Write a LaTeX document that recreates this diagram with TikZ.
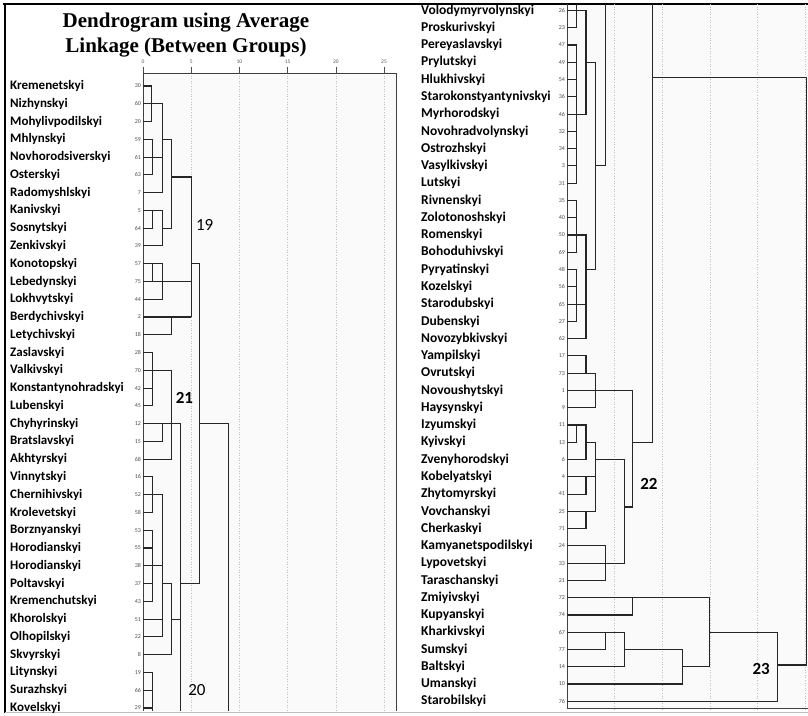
\documentclass[tikz,border=0pt]{standalone}
\usepackage{fontspec}
\setmainfont{Carlito}
\newfontfamily\titlefont{Liberation Serif}
\usetikzlibrary{positioning}

\tikzset{
  dend/.style={line width=1.1pt, black!85},
  gridline/.style={gray!50, line width=0.6pt, dotted},
  frameline/.style={black!75, line width=1pt},
  district/.style={font=\bfseries\fontsize{13}{14}\selectfont, anchor=west, inner sep=0pt},
  districtr/.style={font=\bfseries\fontsize{13.5}{14}\selectfont, anchor=west, inner sep=0pt},
  caseno/.style={font=\fontsize{6}{6}\selectfont, text=black!70, anchor=east, inner sep=0pt},
  ticklabel/.style={font=\fontsize{5.5}{6}\selectfont, text=black!65, inner sep=0pt},
  clusterno/.style={font=\fontsize{17}{18}\selectfont, inner sep=0pt},
}

\begin{document}
\begin{tikzpicture}[x=1pt, y=-1pt]
  \useasboundingbox (0,0) rectangle (808,715);

  % outer frame and panel backgrounds
  \fill[black!2] (143,73) rectangle (397,711);
  \fill[black!2] (567,4) rectangle (808,709);
  \draw[line width=1.2pt] (3,4) -- (808,4);
  \draw[line width=1.2pt] (5,4) -- (5,713);
  \draw[gray!50, line width=1pt] (5,712.5) -- (808,712.5);

  \node[font=\titlefont\bfseries\fontsize{21}{25}\selectfont, align=center] (title) at (186,35) {Dendrogram using Average\\Linkage (Between Groups)};

  % left half of the dendrogram
  \begin{scope}[xshift=143pt, yshift=-68.23pt, x=9.64pt, y=-17.77pt]
    \foreach \d in {5,10,...,25}
      \draw[gridline] (\d,0.27) -- (\d,36.17);
    \foreach \d in {0,5,...,25} {
      \draw[black!70, line width=0.6pt] (\d,-0.07) -- (\d,0.27);
      \node[ticklabel] (tick\d) at (\d,-0.35) {\d};
    }
    \draw[frameline] (0,36.17) -- (0,0.27) -- (26.3,0.27) -- (26.3,36.17);

    \foreach \dname/\cnum [count=\i] in {Kremenetskyi/30, Nizhynskyi/60, Mohylivpodilskyi/20,
        Mhlynskyi/59, Novhorodsiverskyi/61, Osterskyi/63, Radomyshlskyi/7, Kanivskyi/5,
        Sosnytskyi/64, Zenkivskyi/39, Konotopskyi/57, Lebedynskyi/75, Lokhvytskyi/44,
        Berdychivskyi/2, Letychivskyi/18, Zaslavskyi/28, Valkivskyi/70,
        Konstantynohradskyi/42, Lubenskyi/45, Chyhyrinskyi/12, Bratslavskyi/15,
        Akhtyrskyi/68, Vinnytskyi/16, Chernihivskyi/52, Krolevetskyi/58, Borznyanskyi/53,
        Horodianskyi/55, Horodianskyi/38, Poltavskyi/37, Kremenchutskyi/43, Khorolskyi/51,
        Olhopilskyi/22, Skvyrskyi/8, Litynskyi/19, Surazhskyi/66, Kovelskyi/29} {
      \node[district] (lname\i) at (-13.8,\i) {\dname};
      \node[caseno] (lcase\i) at (-0.2,\i) {\cnum};
    }

    \draw[dend]
      (0,1) -- (0.9,1) -- (0.9,3) -- (0,3)
      (0,2) -- (2,2) -- (2,7) -- (0,7) (0,5) -- (2,5)
      (0,4) -- (1,4) -- (1,6) -- (0,6)
      (2,4) -- (3,4) -- (3,9) -- (2,9)
      (0,8) -- (2,8) -- (2,10) -- (0,10)
      (0,9) -- (1,9) -- (1,8)
      (3,6.12) -- (5,6.12) -- (5,14)
      (0,11) -- (2,11) -- (2,13) -- (0,13) (1,11) -- (1,12)
      (0,12) -- (5,12)
      (5,11) -- (5.9,11) -- (5.9,29)
      (0,14) -- (5,14) (3,14) -- (3,15) -- (0,15)
      (0,16) -- (1,16) -- (1,19) -- (0,19) (0,18) -- (1,18)
      (0,17) -- (3,17) -- (3,22) -- (0,22)
      (0,20) -- (3.9,20) -- (3.9,36.17)
      (2,20) -- (2,21) -- (0,21)
      (5.9,20) -- (8.9,20) -- (8.9,36.17)
      (0,23) -- (1,23) -- (1,25) -- (0,25)
      (0,24) -- (2,24) -- (2,32) -- (0,32)
      (0,26) -- (1,26) -- (1,30) -- (0,30) (0,27) -- (1,27) (0,29) -- (1,29)
      (0,28) -- (2,28)
      (2,29) -- (3,29) -- (3,33) -- (0,33)
      (3.9,29) -- (5.9,29)
      (0,31) -- (2,31) (3,31) -- (3.9,31)
      (0,34) -- (1,34) -- (1,36.17) (0,35) -- (1,35) (0,36) -- (1,36);

    \node[clusterno] (c19) at (6.4,8.8) {19};
    \node[clusterno, font=\bfseries\fontsize{17}{18}\selectfont] (c21) at (4.3,18.55) {21};
    \node[clusterno] (c20) at (5.6,35.0) {20};
  \end{scope}

  % right half of the dendrogram
  \begin{scope}[xshift=567pt, yshift=6.77pt, x=9.52pt, y=-17.27pt]
    \foreach \d in {5,10,...,25}
      \draw[gridline] (\d,0.62) -- (\d,41.44);
    \draw[frameline] (0,0.62) -- (0,41.44) -- (25.4,41.44);

    \foreach \dname/\cnum [count=\i] in {Volodymyrvolynskyi/26, Proskurivskyi/23,
        Pereyaslavskyi/47, Prylutskyi/49, Hlukhivskyi/54, Starokonstyantynivskyi/36,
        Myrhorodskyi/46, Novohradvolynskyi/32, Ostrozhskyi/34, Vasylkivskyi/3, Lutskyi/31,
        Rivnenskyi/35, Zolotonoshskyi/40, Romenskyi/50, Bohoduhivskyi/69, Pyryatinskyi/48,
        Kozelskyi/56, Starodubskyi/65, Dubenskyi/27, Novozybkivskyi/62, Yampilskyi/17,
        Ovrutskyi/73, Novoushytskyi/1, Haysynskyi/9, Izyumskyi/11, Kyivskyi/13,
        Zvenyhorodskyi/6, Kobelyatskyi/4, Zhytomyrskyi/41, Vovchanskyi/25, Cherkaskyi/71,
        Kamyanetspodilskyi/24, Lypovetskyi/33, Taraschanskyi/21, Zmiyivskyi/72,
        Kupyanskyi/74, Kharkivskyi/67, Sumskyi/77, Baltskyi/14, Umanskyi/10,
        Starobilskyi/76} {
      \node[districtr] (rname\i) at (-15.34,\i) {\dname};
      \node[caseno] (rcase\i) at (-0.2,\i) {\cnum};
    }

    \draw[dend]
      (0,1) -- (2,1) -- (2,7) -- (0,7)
      (1,0.62) -- (1,2) -- (0,2)
      (0,3) -- (1,3) -- (1,11) -- (0,11)
      (0,4) -- (1,4) (0,5) -- (1,5) (0,6) -- (1,6)
      (0,8) -- (1,8) (0,9) -- (1,9) (0,10) -- (1,10)
      (2,4) -- (3,4) -- (3,16) -- (2,16)
      (4,0.62) -- (4,10) -- (3,10)
      (0,12) -- (1,12) -- (1,15) -- (0,15) (0,13) -- (1,13)
      (0,14) -- (2,14) -- (2,20) -- (0,20)
      (0,16) -- (1,16) -- (1,19) -- (0,19) (0,17) -- (1,17)
      (0,18) -- (2,18)
      (0,21) -- (2,21) -- (2,22)
      (0,22) -- (3,22) -- (3,24) -- (0,24)
      (0,23) -- (6.9,23) -- (6.9,29.75) -- (6,29.75)
      (6.9,26) -- (9,26) -- (9,0.62)
      (0,25) -- (2,25) -- (2,27) -- (0,27) (1,25) -- (1,26) -- (0,26)
      (2,26) -- (3,26) -- (3,30) -- (0,30)
      (3,27) -- (6,27) -- (6,33) -- (0,33)
      (0,28) -- (3,28) (2,28) -- (2,29) -- (0,29)
      (2,30) -- (2,31) -- (0,31)
      (0,32) -- (4,32) -- (4,34) -- (0,34)
      (0,35) -- (15,35) -- (15,39) -- (12.1,39)
      (6.9,35) -- (6.9,36) -- (0,36)
      (0,37) -- (6,37) -- (6,39) -- (0,39)
      (4,37) -- (4,38) -- (0,38)
      (6,38) -- (12.1,38) -- (12.1,40) -- (0,40)
      (15,37) -- (22.1,37) -- (22.1,41) -- (0,41)
      (22.1,38.9) -- (25.2,38.9) -- (25.2,4.9) -- (9,4.9);

    \node[clusterno, font=\bfseries\fontsize{17}{18}\selectfont] (c22) at (8.6,28.4) {22};
    \node[clusterno, font=\bfseries\fontsize{17}{18}\selectfont] (c23) at (20.4,39.1) {23};
  \end{scope}
\end{tikzpicture}
\end{document}
